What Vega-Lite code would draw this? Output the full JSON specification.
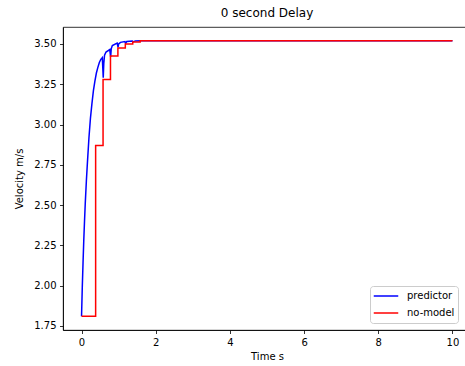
{
  "$schema": "https://vega.github.io/schema/vega-lite/v6.json",
  "autosize": "none",
  "padding": {"left": 63, "top": 27, "right": 0, "bottom": 36},
  "width": 408,
  "height": 303,
  "background": "white",
  "config": {
    "font": "DejaVu Sans",
    "view": {"stroke": "#000000", "strokeWidth": 0.8},
    "axis": {
      "grid": false,
      "domainColor": "#000000",
      "domainWidth": 0.8,
      "tickColor": "#000000",
      "tickWidth": 0.8,
      "tickSize": 3.5,
      "labelFont": "DejaVu Sans",
      "labelFontSize": 10,
      "labelColor": "#000000",
      "labelPadding": 3.5,
      "titleFont": "DejaVu Sans",
      "titleFontSize": 10,
      "titleFontWeight": "normal",
      "titleColor": "#000000"
    }
  },
  "title": {"text": "0 second Delay", "fontSize": 12, "fontWeight": "normal", "font": "DejaVu Sans", "color": "#000000", "offset": 7},
  "data": {
    "values": [
      {"series": "predictor", "t": 0, "v": 1.81},
      {"series": "predictor", "t": 0.02, "v": 1.99},
      {"series": "predictor", "t": 0.04, "v": 2.14},
      {"series": "predictor", "t": 0.06, "v": 2.28},
      {"series": "predictor", "t": 0.08, "v": 2.40},
      {"series": "predictor", "t": 0.10, "v": 2.51},
      {"series": "predictor", "t": 0.13, "v": 2.65},
      {"series": "predictor", "t": 0.16, "v": 2.77},
      {"series": "predictor", "t": 0.20, "v": 2.92},
      {"series": "predictor", "t": 0.24, "v": 3.04},
      {"series": "predictor", "t": 0.28, "v": 3.13},
      {"series": "predictor", "t": 0.32, "v": 3.21},
      {"series": "predictor", "t": 0.36, "v": 3.27},
      {"series": "predictor", "t": 0.40, "v": 3.32},
      {"series": "predictor", "t": 0.44, "v": 3.355},
      {"series": "predictor", "t": 0.48, "v": 3.385},
      {"series": "predictor", "t": 0.52, "v": 3.405},
      {"series": "predictor", "t": 0.56, "v": 3.415},
      {"series": "predictor", "t": 0.585, "v": 3.29},
      {"series": "predictor", "t": 0.60, "v": 3.38},
      {"series": "predictor", "t": 0.62, "v": 3.43},
      {"series": "predictor", "t": 0.66, "v": 3.45},
      {"series": "predictor", "t": 0.76, "v": 3.465},
      {"series": "predictor", "t": 0.785, "v": 3.42},
      {"series": "predictor", "t": 0.80, "v": 3.47},
      {"series": "predictor", "t": 0.83, "v": 3.49},
      {"series": "predictor", "t": 0.96, "v": 3.505},
      {"series": "predictor", "t": 0.985, "v": 3.48},
      {"series": "predictor", "t": 1.00, "v": 3.50},
      {"series": "predictor", "t": 1.05, "v": 3.51},
      {"series": "predictor", "t": 1.17, "v": 3.515},
      {"series": "predictor", "t": 1.19, "v": 3.505},
      {"series": "predictor", "t": 1.22, "v": 3.515},
      {"series": "predictor", "t": 1.37, "v": 3.519},
      {"series": "predictor", "t": 1.39, "v": 3.513},
      {"series": "predictor", "t": 1.45, "v": 3.519},
      {"series": "predictor", "t": 1.6, "v": 3.52},
      {"series": "predictor", "t": 10, "v": 3.52},
      {"series": "no-model", "t": 0, "v": 1.81},
      {"series": "no-model", "t": 0.38, "v": 2.87},
      {"series": "no-model", "t": 0.58, "v": 3.28},
      {"series": "no-model", "t": 0.78, "v": 3.425},
      {"series": "no-model", "t": 0.98, "v": 3.475},
      {"series": "no-model", "t": 1.18, "v": 3.50},
      {"series": "no-model", "t": 1.38, "v": 3.513},
      {"series": "no-model", "t": 1.58, "v": 3.52},
      {"series": "no-model", "t": 10, "v": 3.52}
    ]
  },
  "encoding": {
    "x": {"field": "t", "type": "quantitative", "title": "Time s",
      "scale": {"domain": [-0.5, 10.5], "nice": false, "zero": false},
      "axis": {"values": [0, 2, 4, 6, 8, 10], "format": "d", "titlePadding": 4}},
    "y": {"field": "v", "type": "quantitative", "title": "Velocity m/s",
      "scale": {"domain": [1.7245, 3.6055], "nice": false, "zero": false},
      "axis": {"values": [1.75, 2.0, 2.25, 2.5, 2.75, 3.0, 3.25, 3.5], "format": ".2f", "titlePadding": 9}},
    "color": {"field": "series", "type": "nominal",
      "scale": {"domain": ["predictor", "no-model"], "range": ["#0000ff", "#ff0000"]},
      "legend": {"title": null, "orient": "none", "legendX": 307, "legendY": 259,
        "symbolType": "stroke", "symbolSize": 600, "symbolStrokeWidth": 1.5,
        "clipHeight": 14,
        "labelFontSize": 10, "labelFont": "DejaVu Sans", "labelColor": "#000000",
        "fillColor": "white", "strokeColor": "#cccccc", "cornerRadius": 3,
        "padding": 3, "rowPadding": 3, "labelOffset": 8}}
  },
  "layer": [
    {"transform": [{"filter": "datum.series === 'predictor'"}],
     "mark": {"type": "line", "strokeWidth": 1.5, "clip": true}},
    {"transform": [{"filter": "datum.series === 'no-model'"}],
     "mark": {"type": "line", "strokeWidth": 1.5, "interpolate": "step-after", "clip": true}}
  ]
}
